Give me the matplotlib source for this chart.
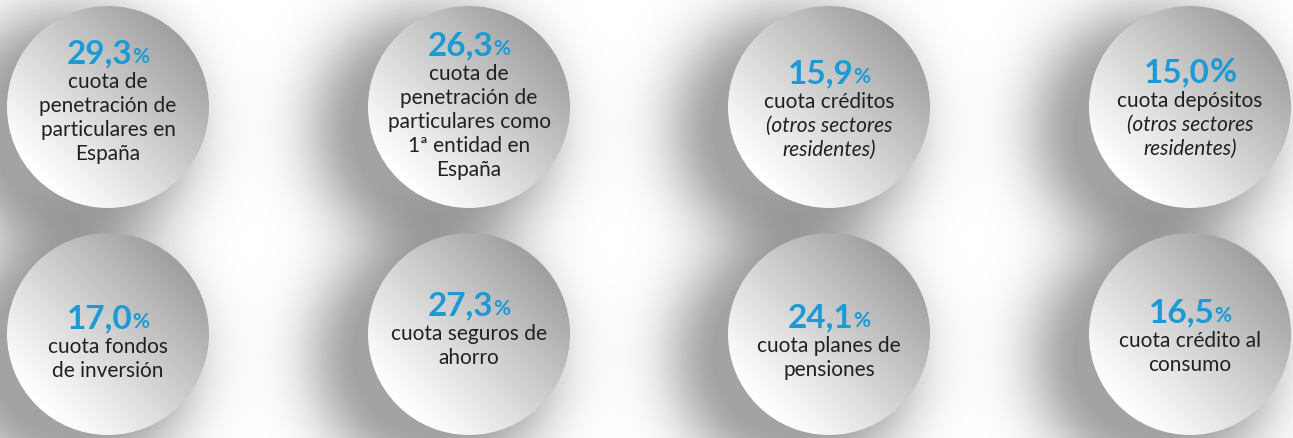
import matplotlib.pyplot as plt
import numpy as np
from matplotlib.patches import Circle

W, H = 1293, 439

# data: key figure and its caption per bubble (reading order, top row first)
VALUES = ['29,3', '26,3', '15,9', '15,0', '17,0', '27,3', '24,1', '16,5']
PCT_SMALL = [True, True, True, False, True, True, True, True]
LABELS = [
    ['cuota de', 'penetración de', 'particulares en', 'España'],
    ['cuota de', 'penetración de', 'particulares como', '1ª entidad en', 'España'],
    ['cuota créditos', '(otros sectores', 'residentes)'],
    ['cuota depósitos', '(otros sectores', 'residentes)'],
    ['cuota fondos', 'de inversión'],
    ['cuota seguros de', 'ahorro'],
    ['cuota planes de', 'pensiones'],
    ['cuota crédito al', 'consumo'],
]
ITALIC_FROM = [None, None, 1, 1, None, None, None, None]

# layout (pixels)
COL_X = [108, 469, 829, 1190]
ROW_Y = [108, 335]
RADIUS = 101
BIG_BASELINE = [63, 55, 83, 82, 328, 315, 327, 322]

BLUE = '#1b9ad6'
INK = '#231f20'

plt.rcParams['font.family'] = ['Lato', 'DejaVu Sans']


def centres():
    return [(COL_X[i % 4], ROW_Y[i // 4]) for i in range(len(VALUES))]


def main():
    fig = plt.figure(figsize=(W / 100, H / 100), dpi=100)
    ax = fig.add_axes([0, 0, 1, 1])

    # soft drop shadows, thrown to the lower left
    yy, xx = np.mgrid[0:H, 0:W] + 0.5
    shade = np.ones((H, W))
    for cx, cy in centres():
        d = np.hypot(xx - (cx - 35), yy - (cy + 22))
        excess = np.clip(d - (RADIUS - 25), 0, None)
        shade *= 1 - 0.36 * np.exp(-(excess / 55) ** 2)
    ax.imshow(shade, cmap='gray', vmin=0, vmax=1, extent=(0, W, H, 0),
              interpolation='bilinear', zorder=0)

    # bubbles with a diagonal grey gradient
    n = 2 * RADIUS
    gy, gx = np.mgrid[0:n, 0:n] + 0.5
    t = ((gx - RADIUS) - (gy - RADIUS)) / (2 * np.sqrt(2) * RADIUS) + 0.5
    grad = 1.0 - 0.38 * np.clip(t, 0, 1) ** 1.1
    for cx, cy in centres():
        circ = Circle((cx, cy), RADIUS, facecolor='none', edgecolor='none')
        ax.add_patch(circ)
        im = ax.imshow(grad, cmap='gray', vmin=0, vmax=1,
                       extent=(cx - RADIUS, cx + RADIUS, cy + RADIUS, cy - RADIUS),
                       interpolation='bilinear', zorder=1)
        im.set_clip_path(circ)

    ax.set_xlim(0, W)
    ax.set_ylim(H, 0)
    ax.set_aspect('auto')
    ax.axis('off')

    renderer = fig.canvas.get_renderer()
    for i, (cx, cy) in enumerate(centres()):
        base = BIG_BASELINE[i]
        num = ax.text(0, base, VALUES[i], color=BLUE, fontsize=24,
                      fontweight='bold', va='baseline', ha='left', zorder=3)
        pct = ax.text(0, base, '%', color=BLUE, fontsize=15 if PCT_SMALL[i] else 24,
                      fontweight='bold', va='baseline', ha='left', zorder=3)
        w1 = num.get_window_extent(renderer).width
        w2 = pct.get_window_extent(renderer).width
        x0 = cx - (w1 + w2) / 2
        num.set_x(x0)
        pct.set_x(x0 + w1)

        for j, line in enumerate(LABELS[i]):
            italic = ITALIC_FROM[i] is not None and j >= ITALIC_FROM[i]
            ax.text(cx, base + 25 + 24 * j, line, color=INK, fontsize=15,
                    style='italic' if italic else 'normal',
                    ha='center', va='baseline', zorder=3)

    fig.savefig('out.png', dpi=100)


if __name__ == '__main__':
    main()
